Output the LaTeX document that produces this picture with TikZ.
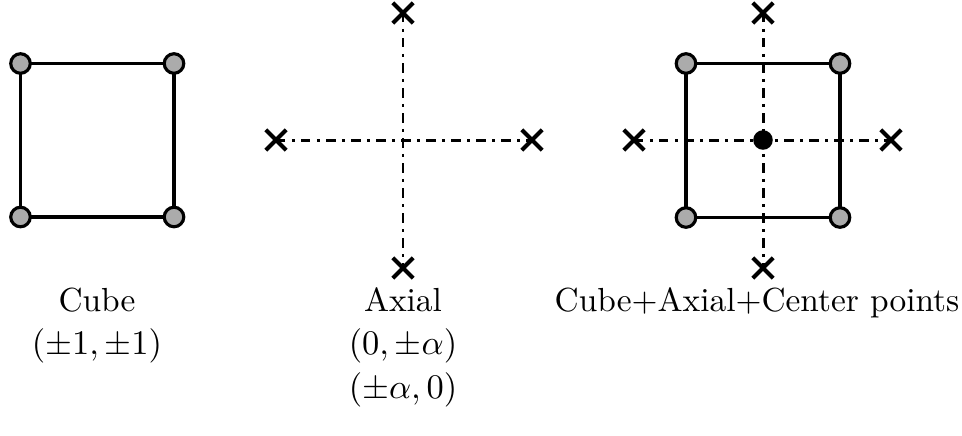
\documentclass[tikz,border=0pt]{standalone}
\usetikzlibrary{shapes.misc}
\begin{document}
\begin{tikzpicture}[x=0.3175pt,y=-0.3175pt,
  cubept/.style={circle,draw=black,fill=black!33,line width=1pt,minimum size=6.2pt,inner sep=0pt},
  axpt/.style={cross out,draw=black,line width=1.25pt,minimum size=5.2pt,inner sep=0pt},
  ctrpt/.style={circle,fill=black,minimum size=6.2pt,inner sep=0pt},
  edge/.style={line width=1pt},
  axis/.style={line width=0.95pt,dash dot},
  lbl/.style={anchor=base,inner sep=0pt,font=\fontsize{10.6}{13}\selectfont}]
\useasboundingbox (0,0) rectangle (962,435);
% Cube
\coordinate (a1) at (20.5,63.5);
\coordinate (a2) at (174,63.5);
\coordinate (a3) at (174,217);
\coordinate (a4) at (20.5,217);
\draw[edge] (a1) -- (a2) -- (a3) -- (a4) -- cycle;
\foreach \p in {a1,a2,a3,a4} \node[cubept] (n\p) at (\p) {};
% Axial
\node[axpt] (bl) at (276,140) {};
\node[axpt] (br) at (532,140) {};
\node[axpt] (bt) at (403,13) {};
\node[axpt] (bb) at (403,268) {};
\draw[axis] (bl.center) -- (br.center);
\draw[axis] (bt.center) -- (bb.center);
% Combined
\coordinate (c1) at (686,63.5);
\coordinate (c2) at (840,63.5);
\coordinate (c3) at (840,217.5);
\coordinate (c4) at (686,217.5);
\draw[edge] (c1) -- (c2) -- (c3) -- (c4) -- cycle;
\node[axpt] (dl) at (634,140) {};
\node[axpt] (dr) at (891,140) {};
\node[axpt] (dt) at (763,13) {};
\node[axpt] (db) at (763,268) {};
\draw[axis] (dl.center) -- (dr.center);
\draw[axis] (dt.center) -- (db.center);
\foreach \p in {c1,c2,c3,c4} \node[cubept] (n\p) at (\p) {};
\node[ctrpt] (ctr) at (763,140) {};
% Labels
\node[lbl] (l1) at (97,311) {Cube};
\node[lbl] (l2) at (97,354) {$(\pm1,\pm1)$};
\node[lbl] (l3) at (403,311) {Axial};
\node[lbl] (l4) at (403,354) {$(0,\pm\alpha)$};
\node[lbl] (l5) at (403,398) {$(\pm\alpha,0)$};
\node[lbl] (l6) at (757,311) {Cube+Axial+Center points};
\end{tikzpicture}
\end{document}
